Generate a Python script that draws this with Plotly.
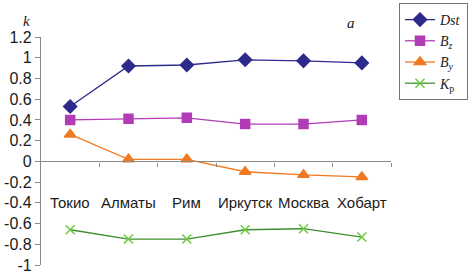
import plotly.graph_objects as go

cities = ["Токио", "Алматы", "Рим", "Иркутск", "Москва", "Хобарт"]
dst = [0.53, 0.92, 0.93, 0.98, 0.97, 0.95]
bz = [0.40, 0.41, 0.42, 0.36, 0.36, 0.40]
by = [0.26, 0.02, 0.02, -0.10, -0.13, -0.15]
kp = [-0.66, -0.75, -0.75, -0.66, -0.65, -0.73]
yticks = [1.2, 1, 0.8, 0.6, 0.4, 0.2, 0, -0.2, -0.4, -0.6, -0.8, -1]
ytick_text = ["1.2", "1", "0.8", "0.6", "0.4", "0.2", "0", "-0.2", "-0.4", "-0.6", "-0.8", "-1"]

xs = list(range(len(cities)))

series = [
    ("<i>Dst</i>", dst, "#2E2A8C", "#2E2A8C", "diamond", 10),
    ("<i>B<sub>z</sub></i>", bz, "#B23CB6", "#B23CB6", "square", 9),
    ("<i>B<sub>y</sub></i>", by, "#F07A22", "#F07A22", "triangle-up", 10),
    ("<i>K</i><sub>p</sub>", kp, "#3E8E2E", "#6CCB3C", "x-thin", 9),
]

fig = go.Figure()
for name, vals, lc, mc, sym, sz in series:
    fig.add_trace(go.Scatter(
        x=xs, y=vals, name=name, mode="lines+markers",
        line=dict(color=lc, width=1.3),
        marker=dict(symbol=sym, size=sz, color=mc,
                    line=dict(color=mc, width=1.5)),
    ))

# invisible trace on overlaid axis for zero-line axis
fig.add_trace(go.Scatter(x=[-0.5, 5.5], y=[0, 0], xaxis="x2", mode="lines",
                         line=dict(width=0), showlegend=False, hoverinfo="skip"))

for i, c in enumerate(cities):
    fig.add_annotation(x=i, y=-0.4, xref="x", yref="y", text=c, showarrow=False,
                       font=dict(family="Arial, Liberation Sans", size=15, color="#1a1a1a"))

fig.add_annotation(x=(21 - 41) / 350, y=(265 - 11) / 228, xref="paper", yref="paper", text="<i>k</i>",
                   showarrow=False, font=dict(family="Times New Roman, Liberation Serif", size=15, color="#222"))
fig.add_annotation(x=(357 - 41) / 350, y=(265 - 13) / 228, xref="paper", yref="paper", text="<i>a</i>",
                   showarrow=False, font=dict(family="Times New Roman, Liberation Serif", size=15, color="#222"))

fig.update_layout(
    width=473, height=273,
    margin=dict(l=41, r=82, t=37, b=8, autoexpand=False),
    paper_bgcolor="white", plot_bgcolor="white",
    xaxis=dict(range=[-0.5, 5.5], showgrid=False, zeroline=False, showticklabels=False,
               showline=False, ticks="", automargin=False),
    xaxis2=dict(range=[-0.5, 5.5], overlaying="x", anchor="free", position=1 / 2.2,
                showgrid=False, zeroline=False, showticklabels=False, showline=True,
                linecolor="#8a8a8a", linewidth=1.3, ticks="outside", ticklen=4,
                tickcolor="#8a8a8a", tickvals=[0.5, 1.5, 2.5, 3.5, 4.5, 5.5], automargin=False),
    yaxis=dict(range=[-1, 1.2], tickvals=yticks, ticktext=ytick_text, showgrid=False,
               zeroline=False, showline=True, linecolor="#8a8a8a", linewidth=1.3,
               ticks="outside", ticklen=5, tickcolor="#8a8a8a", automargin=False,
               ticklabeloverflow="allow",
               tickfont=dict(family="Arial, Liberation Sans", size=16, color="#1a1a1a")),
    legend=dict(x=(399 - 41) / 350, y=(265 - 3) / 228,
                xanchor="left", yanchor="top", bordercolor="#777", borderwidth=1,
                bgcolor="white", tracegroupgap=0, itemwidth=30,
                font=dict(family="Times New Roman, Liberation Serif", size=14, color="#222")),
    showlegend=True,
)

fig.write_html("out.html", config={"displayModeBar": False},
               post_script="document.body.style.margin='0';")
